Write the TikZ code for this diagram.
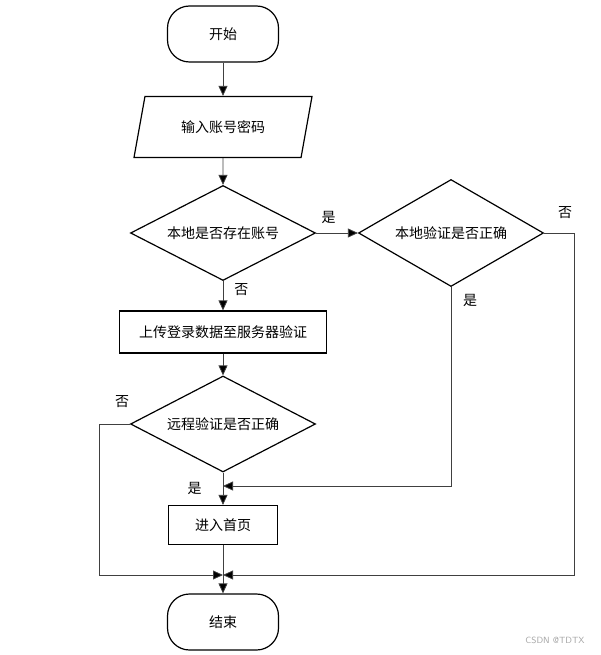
\documentclass[tikz,border=0pt]{standalone}
\usepackage{fontspec}
\newfontfamily\cjk{Noto Sans CJK SC}
\usetikzlibrary{shapes.geometric,arrows.meta}
\tikzset{
  terminal/.style={draw, line width=1.2pt, rounded corners=22pt, minimum width=111pt, minimum height=56pt},
  io/.style={draw, line width=1.2pt, trapezium, trapezium left angle=61, trapezium right angle=119,
    trapezium stretches body, minimum width=178pt, minimum height=61pt},
  decision/.style={draw, line width=1.2pt, diamond, aspect=2, inner sep=0pt, minimum width=185pt},
  process/.style={draw, line width=1.2pt, minimum width=207pt, minimum height=42pt},
  flow/.style={draw=black!75, line width=0.8pt, -{Triangle[length=10pt,width=9pt,fill=black]}},
  tag/.style={inner sep=1pt}
}
\begin{document}
\begin{tikzpicture}[x=1pt, y=-1pt, font=\fontsize{14}{16}\cjk]
  \useasboundingbox (0,0) rectangle (601,655);
  % boxes
  \node[terminal] (start) at (223,34) {开始};
  \node[io] (input) at (223,127) {输入账号密码};
  \node[decision, minimum height=95pt] (local) at (223,233) {本地是否存在账号};
  \node[decision, minimum height=107pt] (localok) at (451,233) {本地验证是否正确};
  \node[process] (upload) at (223,332) {上传登录数据至服务器验证};
  \node[decision, minimum height=96pt] (remote) at (223,424) {远程验证是否正确};
  \node[process, minimum width=109pt, minimum height=39pt] (home) at (223,525) {进入首页};
  \node[terminal] (stop) at (223,622) {结束};
  \coordinate (merge) at (223,486);
  \coordinate (join) at (223,575);

  % arrows
  \draw[flow] (start) -- (input);
  \draw[flow] (input) -- (local);
  \draw[flow] (local) -- node[tag, above, pos=0.3, yshift=8pt] {是} (localok);
  \draw[flow] (local) -- node[tag, right, xshift=10pt, pos=0.3] {否} (upload);
  \draw[flow] (upload) -- (remote);
  \draw[flow] (remote) -- node[tag, left, xshift=-20pt] {是} (home);
  \draw[flow] (localok.south) |- (merge);
  \draw[flow] (localok.east) -- ++(30,0) |- (join);
  \draw[flow] (remote.west) -- ++(-31,0) |- (join);
  \draw[flow] (home) -- (stop);

  % labels
  \node[tag] (yes2) at (470,300) {是};
  \node[tag] (no2) at (565,213) {否};
  \node[tag] (no3) at (122,402) {否};
  \node[text=black!35, font=\fontsize{9}{10}\sffamily] (mark) at (555,640) {CSDN @TDTX};
\end{tikzpicture}
\end{document}
